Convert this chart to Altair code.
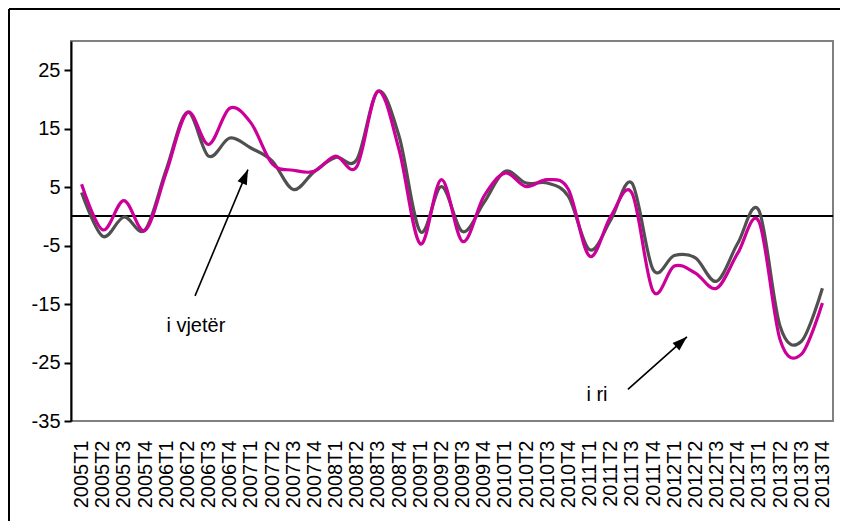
import altair as alt
import pandas as pd

quarters = ["2005T1", "2005T2", "2005T3", "2005T4", "2006T1", "2006T2", "2006T3", "2006T4",
            "2007T1", "2007T2", "2007T3", "2007T4", "2008T1", "2008T2", "2008T3", "2008T4",
            "2009T1", "2009T2", "2009T3", "2009T4", "2010T1", "2010T2", "2010T3", "2010T4",
            "2011T1", "2011T2", "2011T3", "2011T4", "2012T1", "2012T2", "2012T3", "2012T4",
            "2013T1", "2013T2", "2013T3", "2013T4"]

old_series = [4.1, -3.4, -0.1, -2.3, 8.0, 17.8, 10.3, 13.4, 11.7, 9.5, 4.6, 7.7,
              10.1, 9.7, 21.4, 13.7, -2.6, 5.1, -2.6, 2.3, 7.7, 5.7, 5.7, 3.4,
              -5.7, -0.6, 5.7, -9.1, -6.7, -7.1, -11.1, -4.6, 1.0, -18.8, -21.4, -12.3]
new_series = [5.5, -2.3, 2.7, -2.4, 7.5, 17.8, 12.3, 18.5, 16.0, 9.0, 7.9, 7.7,
              10.3, 8.5, 21.4, 11.4, -4.7, 6.3, -4.3, 3.4, 7.4, 5.1, 6.3, 4.6,
              -6.8, 0.0, 4.0, -12.8, -8.5, -9.7, -12.3, -6.3, -0.9, -21.1, -23.6, -14.8]

y_ticks = [-35, -25, -15, -5, 5, 15, 25]

# annotations (in data units: category index, value)
ann_labels = ["i vjetër", "i ri"]
ann_text_x = [5.4, 24.35]
ann_text_y = [-18.7, -30.5]
arrow_tail_x = [5.36, 25.81]
arrow_tail_y = [-13.6, -29.6]
arrow_tip_x = [7.86, 28.6]
arrow_tip_y = [8.0, -20.6]
arrow_angle = [23, 48]

df_old = pd.DataFrame({"q": quarters, "v": old_series})
df_new = pd.DataFrame({"q": quarters, "v": new_series})
df_txt = pd.DataFrame({"x": ann_text_x, "y": ann_text_y, "t": ann_labels})
df_arr = pd.DataFrame({"x": arrow_tail_x, "y": arrow_tail_y,
                       "x2": arrow_tip_x, "y2": arrow_tip_y, "a": arrow_angle})

FONT = "Liberation Sans"

xscale = alt.Scale(type="point", domain=quarters, padding=0.5)
qscale = alt.Scale(domain=[-0.5, len(quarters) - 0.5], nice=False, zero=False)
yscale = alt.Scale(domain=[-35, 30], nice=False, zero=False)

xaxis = alt.Axis(labelAngle=-90, ticks=False, domain=False, grid=False, title=None,
                 labelFont=FONT, labelFontSize=20, labelColor="black", labelPadding=19,
                 labelOverlap=False)
yaxis = alt.Axis(values=y_ticks, grid=False, title=None, labelFont=FONT, labelFontSize=20,
                 labelColor="black", domainColor="black", domainWidth=2, tickColor="black",
                 tickWidth=2, tickSize=7, labelPadding=4, labelExpr="'' + datum.value")

X = alt.X("q:O", scale=xscale, axis=xaxis, sort=quarters)
Y = alt.Y("v:Q", scale=yscale, axis=yaxis)

zero = alt.Chart(df_old).mark_rule(color="black", strokeWidth=1.3).encode(y=alt.datum(0))

line_old = alt.Chart(df_old).mark_line(color="#505050", strokeWidth=3.2,
                                       interpolate="cardinal").encode(x=X, y=Y)
line_new = alt.Chart(df_new).mark_line(color="#CC0099", strokeWidth=3.2,
                                       interpolate="cardinal").encode(
    x=alt.X("q:O", sort=quarters), y=alt.Y("v:Q"))

main = alt.layer(zero, line_old, line_new)

AX = dict(scale=qscale, axis=None)
arrows = alt.Chart(df_arr).mark_rule(color="black", strokeWidth=1.6).encode(
    x=alt.X("x:Q", **AX), y=alt.Y("y:Q"), x2="x2:Q", y2="y2:Q")
heads = alt.Chart(df_arr).mark_point(shape="M0,0L0.75,2.2L-0.75,2.2Z", filled=True,
                                     color="black", opacity=1, size=180).encode(
    x=alt.X("x2:Q", **AX), y=alt.Y("y2:Q"), angle=alt.Angle("a:Q", scale=None))
texts = alt.Chart(df_txt).mark_text(font=FONT, fontSize=20, color="black",
                                    align="center", baseline="middle").encode(
    x=alt.X("x:Q", **AX), y=alt.Y("y:Q"), text="t:N")
notes = alt.layer(arrows, heads, texts)

frame_left = alt.Chart(df_old).mark_rule(color="black", strokeWidth=2).encode(
    x=alt.value(-62), y=alt.value(-32), y2=alt.value(520))
frame_top = alt.Chart(df_old).mark_rule(color="black", strokeWidth=2).encode(
    x=alt.value(-62), x2=alt.value(800), y=alt.value(-32))

chart = alt.layer(main, notes, frame_left, frame_top).resolve_scale(
    x="independent"
).properties(
    width=762, height=380, autosize="none",
    padding={"left": 63, "top": 33, "right": 7, "bottom": 100},
    background="white",
).configure_view(stroke="#808080", strokeWidth=2)

chart.save("out.html", embed_options={"renderer": "svg", "actions": False})
